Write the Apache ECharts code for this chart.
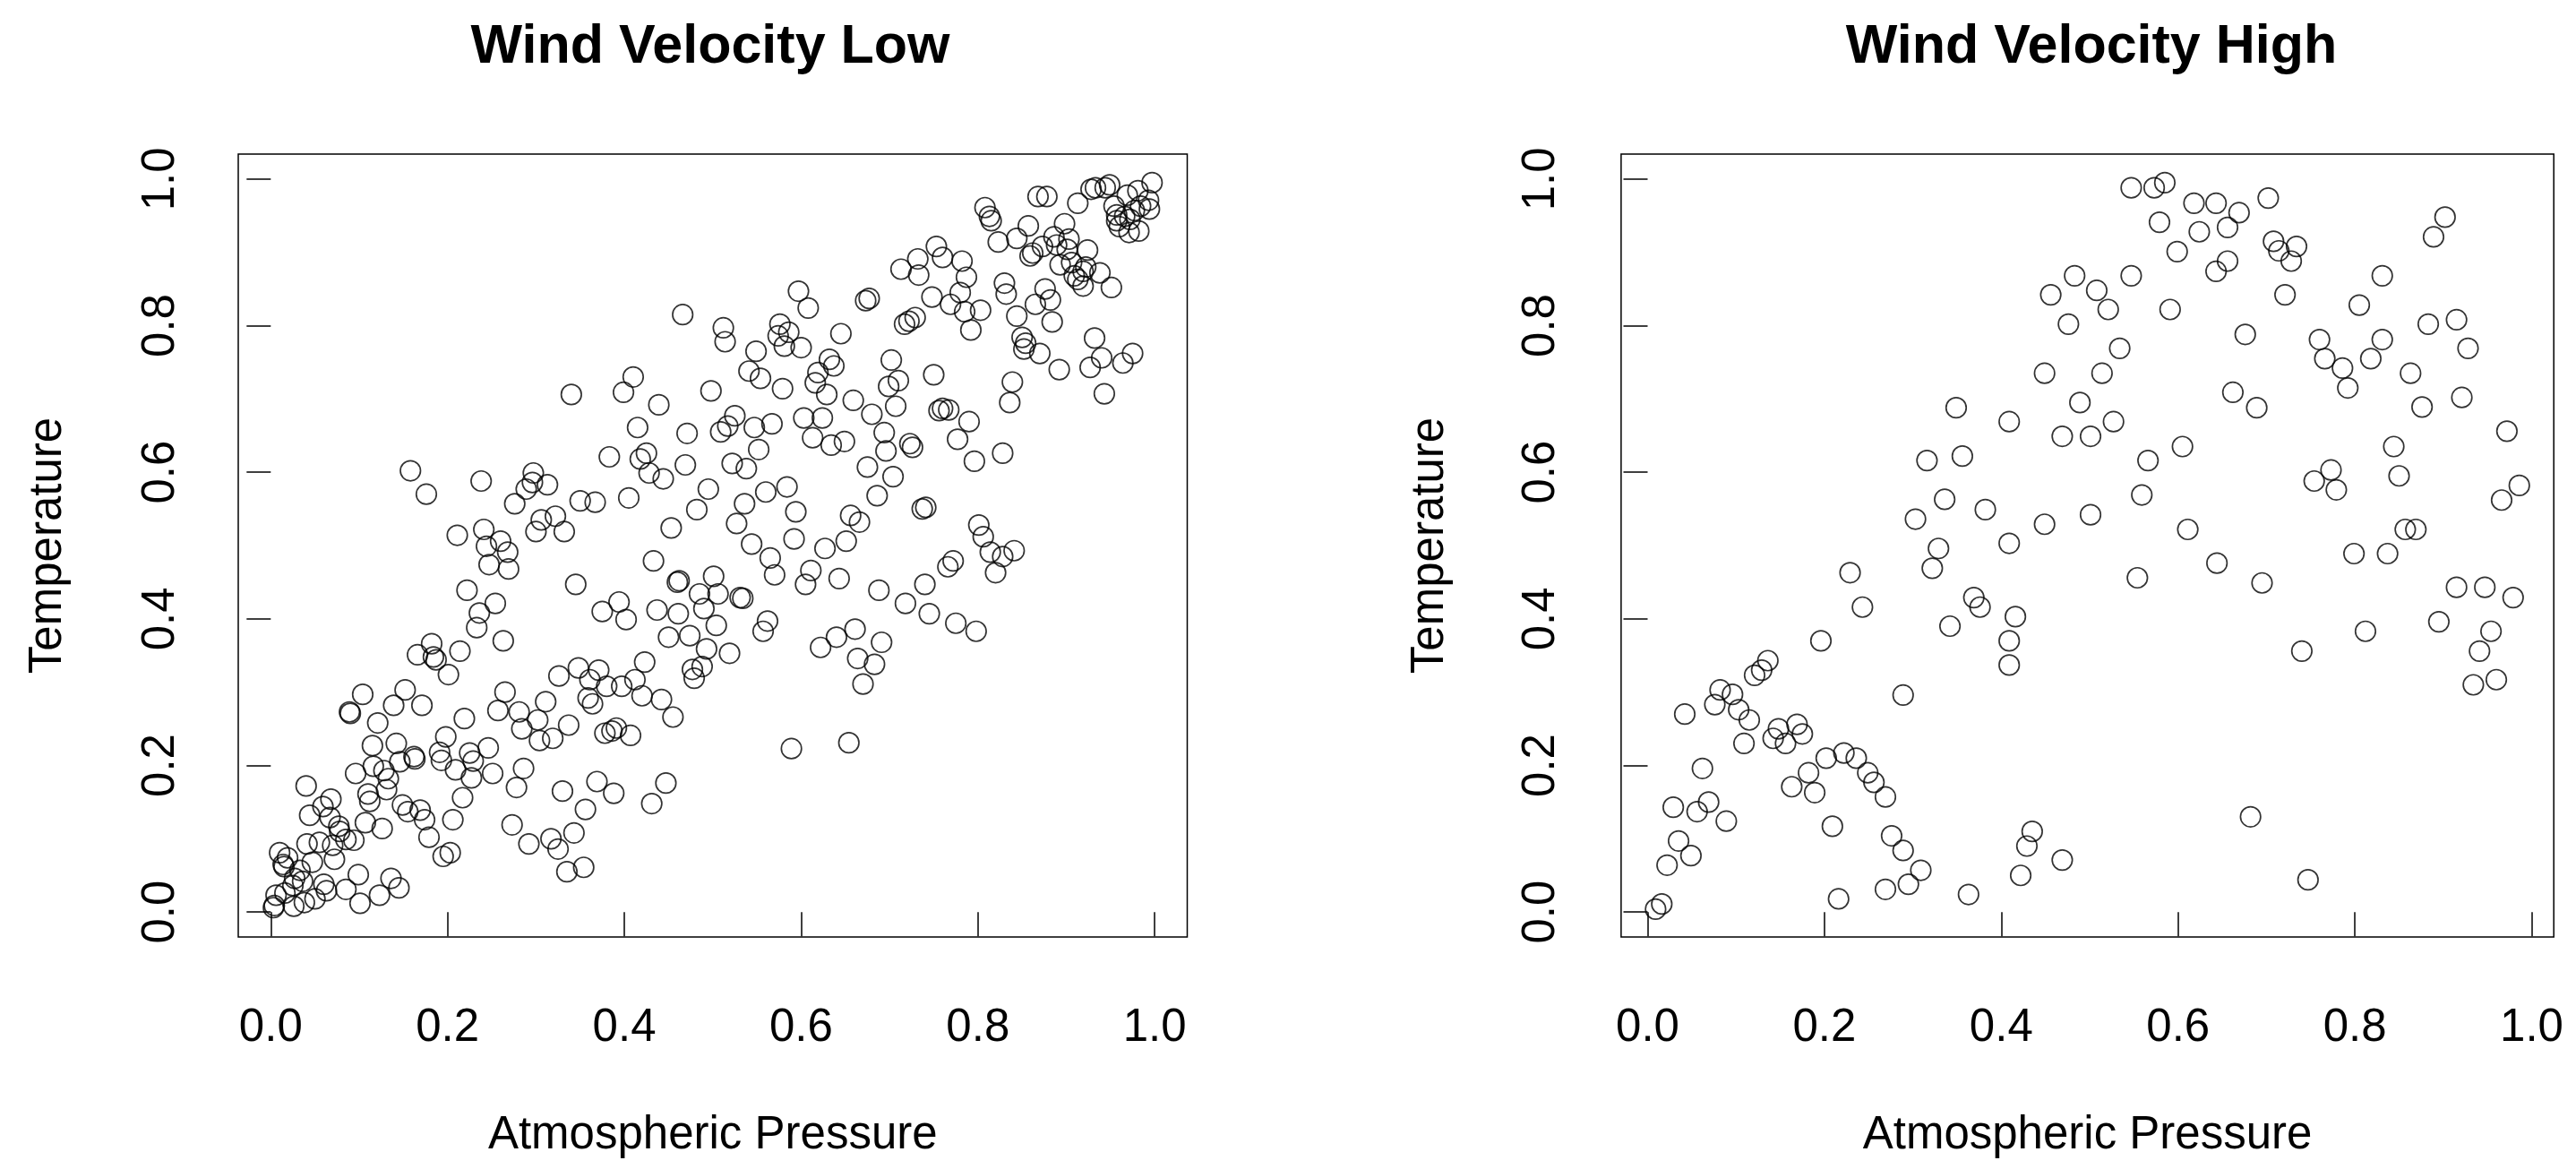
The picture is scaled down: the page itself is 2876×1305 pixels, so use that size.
<!DOCTYPE html>
<html>
<head>
<meta charset="utf-8">
<script src="https://cdn.jsdelivr.net/npm/echarts@6/dist/echarts.min.js"></script>
<style>
html,body{margin:0;padding:0;background:#fff;}
#chart{width:2876px;height:1305px;}
</style>
</head>
<body>
<div id="chart"></div>
<script>
// ---------- DATA ----------
const titles = ['Wind Velocity Low', 'Wind Velocity High'];
const xAxisTitle = 'Atmospheric Pressure';
const yAxisTitle = 'Temperature';
const tickValues = [0, 0.2, 0.4, 0.6, 0.8, 1.0];
const tickLabels = ['0.0', '0.2', '0.4', '0.6', '0.8', '1.0'];

// Low wind velocity panel
const lowPressure = [
0.158,0.176,0.238,0.297,0.296,0.289,0.313,0.276,0.322,0.306,0.300,0.332,0.211,0.241,0.260,
0.597,0.608,0.673,0.677,0.466,0.512,0.514,0.576,0.586,0.574,0.581,0.600,0.645,0.549,0.541,0.554,0.579,0.632,0.637,0.619,0.616,0.629,0.659,0.680,0.340,0.410,0.399,0.439,0.498,0.525,0.517,0.509,0.547,0.567,0.603,0.624,0.613,0.634,0.649,0.552,0.415,0.471,0.383,0.425,0.418,0.428,0.444,0.469,0.522,0.538,0.495,0.482,0.453,0.536,0.527,0.560,0.584,0.594,0.544,0.592,0.656,0.666,0.651,0.350,0.367,0.405,0.675,
0.997,0.981,0.969,0.949,0.944,0.933,0.928,0.913,0.868,0.878,0.993,0.994,0.984,0.977,0.954,0.957,0.966,0.957,0.960,0.971,0.982,0.972,0.808,0.813,0.815,0.823,0.844,0.857,0.862,0.859,0.873,0.886,0.898,0.903,0.901,0.889,0.924,0.893,0.906,0.922,0.919,0.909,0.913,0.938,0.919,0.951,0.753,0.732,0.760,0.782,0.713,0.733,0.787,0.830,0.832,0.780,0.748,0.769,0.785,0.803,0.792,0.876,0.882,0.865,0.844,0.884,0.717,0.722,0.729,0.850,0.854,0.852,0.870,0.892,0.932,0.940,0.927,0.964,0.975,0.943,0.839,0.836,0.702,0.710,0.699,0.750,0.707,0.756,0.767,0.760,0.790,0.777,0.796,0.828,0.694,0.723,0.726,0.696,0.704,0.686,0.737,0.741,0.801,0.806,
0.244,0.268,0.247,0.269,0.222,0.254,0.236,0.233,0.263,0.214,0.166,0.182,0.184,0.187,0.201,0.326,0.104,0.152,0.139,0.171,0.089,0.090,0.121,0.265,0.257,0.219,0.281,0.311,0.302,0.284,0.304,0.319,0.198,0.191,0.193,0.115,0.142,0.162,0.163,0.146,0.116,0.096,0.128,0.133,0.131,0.110,0.112,0.040,0.068,0.059,0.044,0.067,0.149,0.155,0.169,0.174,0.179,0.107,0.126,0.077,0.078,0.094,0.085,0.206,0.217,0.195,0.203,0.070,0.055,0.041,0.072,0.047,0.010,0.019,0.014,0.015,0.033,0.027,0.036,0.025,0.060,0.063,0.050,0.038,0.026,0.016,0.006,0.003,0.004,0.085,0.099,0.101,0.123,0.136,0.145,0.286,0.278,0.330,0.273,0.292,0.317,0.325,0.209,0.225,0.229,0.246,0.227,0.251,
0.627,0.565,0.570,0.433,0.611,0.605,0.643,0.345,0.394,0.375,0.402,0.437,0.461,0.462,0.460,0.501,0.485,0.506,0.490,0.531,0.534,0.504,0.450,0.474,0.493,0.519,0.562,0.557,0.423,0.348,0.371,0.361,0.380,0.397,0.412,0.420,0.442,0.455,0.359,0.364,0.477,0.488,0.479,0.337,0.378,0.386,0.391,0.407,0.589,0.654,0.622,0.640,0.661,0.664,0.670,0.369,0.388,0.356,0.447,0.431,0.343,0.335,0.354,
0.814,0.828,0.841,0.820,0.772,0.766,0.688,0.740,0.718,0.745,0.775,0.798,0.691,0.683
];
const lowTemperature = [
0.602,0.570,0.588,0.599,0.586,0.577,0.583,0.557,0.540,0.535,0.519,0.519,0.514,0.522,0.506,
0.847,0.824,0.834,0.837,0.815,0.797,0.778,0.802,0.791,0.786,0.772,0.770,0.789,0.765,0.738,0.728,0.714,0.754,0.745,0.736,0.722,0.706,0.698,0.679,0.706,0.730,0.709,0.692,0.711,0.677,0.663,0.655,0.661,0.666,0.674,0.674,0.647,0.637,0.642,0.631,0.661,0.653,0.621,0.626,0.618,0.599,0.591,0.610,0.612,0.605,0.577,0.549,0.524,0.557,0.530,0.573,0.580,0.546,0.502,0.509,0.541,0.532,0.506,0.561,0.559,0.565,0.607,
0.995,0.984,0.978,0.992,0.988,0.988,0.986,0.967,0.976,0.976,0.971,0.959,0.963,0.957,0.963,0.951,0.949,0.943,0.935,0.927,0.929,0.945,0.961,0.949,0.943,0.914,0.919,0.936,0.899,0.895,0.908,0.921,0.939,0.918,0.904,0.910,0.903,0.883,0.886,0.880,0.874,0.868,0.863,0.872,0.854,0.852,0.908,0.891,0.893,0.888,0.877,0.869,0.866,0.858,0.843,0.845,0.839,0.829,0.819,0.821,0.794,0.850,0.835,0.829,0.813,0.805,0.802,0.806,0.811,0.784,0.776,0.768,0.762,0.740,0.783,0.756,0.743,0.749,0.762,0.707,0.723,0.695,0.753,0.725,0.717,0.733,0.690,0.684,0.685,0.687,0.669,0.645,0.615,0.626,0.654,0.639,0.634,0.629,0.594,0.568,0.550,0.552,0.528,0.512,
0.499,0.491,0.474,0.468,0.439,0.421,0.408,0.388,0.370,0.356,0.351,0.366,0.348,0.344,0.324,0.322,0.297,0.303,0.282,0.282,0.273,0.271,0.258,0.300,0.275,0.264,0.273,0.287,0.262,0.250,0.234,0.237,0.239,0.218,0.207,0.227,0.230,0.212,0.209,0.205,0.199,0.189,0.193,0.182,0.167,0.161,0.151,0.172,0.154,0.144,0.132,0.129,0.146,0.137,0.139,0.126,0.102,0.122,0.114,0.117,0.110,0.098,0.099,0.126,0.156,0.076,0.081,0.091,0.095,0.093,0.072,0.068,0.081,0.074,0.065,0.062,0.057,0.046,0.042,0.036,0.038,0.029,0.018,0.013,0.008,0.026,0.023,0.006,0.009,0.031,0.051,0.012,0.023,0.046,0.033,0.196,0.170,0.165,0.119,0.093,0.100,0.086,0.194,0.217,0.206,0.224,0.183,0.189,
0.496,0.483,0.460,0.479,0.466,0.447,0.455,0.447,0.423,0.410,0.399,0.412,0.407,0.452,0.450,0.458,0.434,0.434,0.414,0.429,0.428,0.391,0.375,0.377,0.359,0.353,0.397,0.383,0.341,0.333,0.330,0.317,0.308,0.308,0.317,0.295,0.290,0.266,0.292,0.284,0.331,0.335,0.319,0.255,0.244,0.247,0.251,0.241,0.223,0.231,0.361,0.375,0.386,0.346,0.311,0.178,0.162,0.140,0.176,0.148,0.108,0.055,0.061,
0.491,0.485,0.493,0.463,0.479,0.471,0.439,0.447,0.421,0.407,0.394,0.383,0.368,0.338
];

// High wind velocity panel
const highPressure = [
0.483,0.456,0.476,0.449,0.489,0.349,0.409,0.469,0.316,0.356,0.336,0.303,0.382,0.449,0.409,
0.547,0.573,0.585,0.618,0.643,0.669,0.702,0.579,0.624,0.656,0.599,0.656,0.643,0.708,0.714,0.734,0.728,0.721,0.902,0.889,0.831,0.805,0.547,0.508,0.521,0.591,0.534,0.514,0.527,0.501,0.676,0.760,0.766,0.786,0.792,0.818,0.831,0.883,0.915,0.928,0.863,0.921,0.876,0.972,0.844,0.773,0.754,0.779,0.850,0.986,0.966,0.857,0.869,0.662,0.689,0.605,0.566,0.559,0.501,0.611,
0.329,0.322,0.229,0.243,0.369,0.376,0.342,0.416,0.409,0.409,0.196,0.289,0.136,0.129,0.121,0.082,0.096,0.076,0.103,0.115,0.042,0.109,0.148,0.169,0.175,0.142,0.156,0.062,0.202,0.222,0.236,0.249,0.256,0.269,0.182,0.163,0.189,0.029,0.056,0.069,0.089,0.035,0.049,0.022,0.016,0.009,0.209,0.276,0.289,0.309,0.295,0.269,0.216,0.363,0.435,0.429,0.422,0.469,
0.799,0.837,0.644,0.554,0.695,0.915,0.947,0.979,0.895,0.812,0.740,0.954,0.941,0.960,0.934,0.682,0.747
];
const highTemperature = [
0.868,0.842,0.802,0.735,0.695,0.688,0.669,0.649,0.616,0.622,0.563,0.536,0.549,0.529,0.503,
0.988,0.988,0.995,0.967,0.967,0.954,0.974,0.941,0.928,0.934,0.901,0.888,0.874,0.915,0.902,0.908,0.888,0.842,0.948,0.921,0.868,0.828,0.868,0.848,0.822,0.822,0.769,0.735,0.669,0.649,0.788,0.781,0.755,0.742,0.715,0.755,0.781,0.802,0.808,0.769,0.735,0.702,0.689,0.656,0.635,0.603,0.588,0.576,0.595,0.582,0.562,0.522,0.522,0.709,0.688,0.635,0.616,0.569,0.542,0.522,
0.496,0.469,0.463,0.416,0.429,0.416,0.390,0.403,0.370,0.337,0.370,0.296,0.343,0.330,0.323,0.303,0.297,0.283,0.276,0.262,0.270,0.230,0.250,0.256,0.243,0.237,0.230,0.196,0.210,0.217,0.210,0.190,0.177,0.157,0.190,0.171,0.163,0.143,0.137,0.150,0.124,0.097,0.077,0.064,0.011,0.004,0.117,0.104,0.084,0.057,0.038,0.031,0.018,0.024,0.110,0.090,0.050,0.071,
0.489,0.489,0.476,0.456,0.449,0.443,0.443,0.429,0.396,0.383,0.356,0.383,0.356,0.317,0.310,0.130,0.044
];

// ---------- CHART ----------
const FONT = "'Liberation Sans', Arial, Helvetica, sans-serif";
const chart = echarts.init(document.getElementById('chart'), null, {renderer: 'canvas'});

function pairs(xs, ys) { return xs.map((x, i) => [x, ys[i]]); }
function fmt(v) {
  const i = tickValues.findIndex(t => Math.abs(t - v) < 1e-9);
  return i >= 0 ? tickLabels[i] : v.toFixed(1);
}

function xAxisFor(gridIndex, min, max) {
  return {
    type: 'value', gridIndex, min, max,
    name: xAxisTitle, nameLocation: 'middle', nameGap: 196,
    nameTextStyle: {fontSize: 51, color: '#000', fontFamily: FONT},
    axisLine: {show: false},
    axisTick: {show: true, inside: false, length: 27, customValues: tickValues,
      lineStyle: {color: '#000', width: 1.5}},
    axisLabel: {show: true, customValues: tickValues, margin: 76,
      fontSize: 51, color: '#000', fontFamily: FONT, formatter: fmt},
    splitLine: {show: false}
  };
}
function yAxisFor(gridIndex, min, max, nameGap, margin) {
  return {
    type: 'value', gridIndex, min, max,
    name: yAxisTitle, nameLocation: 'middle', nameGap: nameGap, nameRotate: 90,
    nameTextStyle: {fontSize: 51, color: '#000', fontFamily: FONT},
    axisLine: {show: false},
    axisTick: {show: true, inside: false, length: 27, customValues: tickValues,
      lineStyle: {color: '#000', width: 1.5}},
    axisLabel: {show: true, customValues: tickValues, margin: margin, rotate: 90,
      fontSize: 51, color: '#000', fontFamily: FONT, formatter: fmt},
    splitLine: {show: false}
  };
}
const markerStyle = {color: 'rgba(0,0,0,0)', borderColor: '#000', borderWidth: 1.7};

chart.setOption({
  animation: false,
  backgroundColor: '#fff',
  title: [
    {text: titles[0], left: 788, top: 18, textAlign: 'center',
     textStyle: {fontSize: 61, fontWeight: 'bold', color: '#000', fontFamily: FONT}},
    {text: titles[1], left: 2330, top: 18, textAlign: 'center',
     textStyle: {fontSize: 61, fontWeight: 'bold', color: '#000', fontFamily: FONT}}
  ],
  grid: [
    {left: 266, top: 172, width: 1059.5, height: 874, show: true,
     borderColor: '#000', borderWidth: 1.5, backgroundColor: 'rgba(0,0,0,0)', containLabel: false},
    {left: 1809.9, top: 172, width: 1041.3, height: 874, show: true,
     borderColor: '#000', borderWidth: 1.5, backgroundColor: 'rgba(0,0,0,0)', containLabel: false}
  ],
  xAxis: [xAxisFor(0, -0.0368, 1.0368), xAxisFor(1, -0.030, 1.025)],
  yAxis: [yAxisFor(0, -0.034, 1.034, 187, 61), yAxisFor(1, -0.034, 1.034, 187, 63)],
  series: [
    {type: 'scatter', xAxisIndex: 0, yAxisIndex: 0, symbol: 'circle', symbolSize: 22.5,
     itemStyle: markerStyle, data: pairs(lowPressure, lowTemperature), silent: true},
    {type: 'scatter', xAxisIndex: 1, yAxisIndex: 1, symbol: 'circle', symbolSize: 22.5,
     itemStyle: markerStyle, data: pairs(highPressure, highTemperature), silent: true}
  ]
});
</script>
</body>
</html>
